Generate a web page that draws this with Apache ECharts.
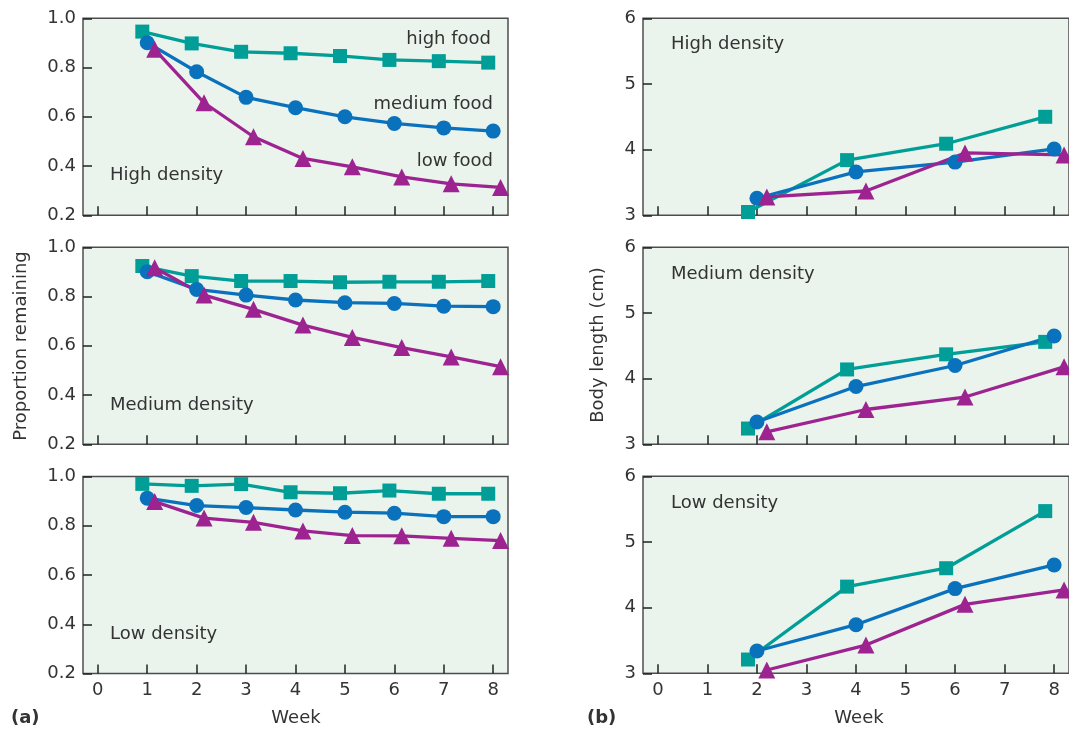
<!DOCTYPE html>
<html>
<head>
<meta charset="utf-8">
<script src="https://cdn.jsdelivr.net/npm/echarts@6/dist/echarts.min.js"></script>
<style>
html,body{margin:0;padding:0;background:#fff;}
#chart{width:1069px;height:731px;}
</style>
</head>
<body>
<div id="chart"></div>
<script>
// ---------------- DATA ----------------
const weeksA = [1, 2, 3, 4, 5, 6, 7, 8];
const weeksB = [2, 4, 6, 8];
const xTickValues = [0, 1, 2, 3, 4, 5, 6, 7, 8];
const densityLabels = ['High density', 'Medium density', 'Low density'];
const foodLabels = ['high food', 'medium food', 'low food'];

// (a) Proportion remaining
const propHighDens_highFood = [0.946, 0.898, 0.864, 0.858, 0.847, 0.831, 0.826, 0.820];
const propHighDens_medFood  = [0.901, 0.783, 0.679, 0.637, 0.600, 0.573, 0.555, 0.542];
const propHighDens_lowFood  = [0.874, 0.657, 0.519, 0.431, 0.397, 0.356, 0.328, 0.313];

const propMedDens_highFood = [0.924, 0.883, 0.863, 0.863, 0.858, 0.860, 0.860, 0.863];
const propMedDens_medFood  = [0.901, 0.829, 0.806, 0.786, 0.775, 0.772, 0.761, 0.759];
const propMedDens_lowFood  = [0.917, 0.806, 0.748, 0.684, 0.634, 0.593, 0.555, 0.515];

const propLowDens_highFood = [0.970, 0.962, 0.969, 0.936, 0.932, 0.943, 0.930, 0.930];
const propLowDens_medFood  = [0.912, 0.882, 0.874, 0.864, 0.855, 0.851, 0.837, 0.837];
const propLowDens_lowFood  = [0.898, 0.831, 0.814, 0.779, 0.760, 0.759, 0.749, 0.740];

// (b) Body length (cm)
const lenHighDens_highFood = [3.05, 3.84, 4.09, 4.50];
const lenHighDens_medFood  = [3.26, 3.66, 3.81, 4.01];
const lenHighDens_lowFood  = [3.28, 3.37, 3.95, 3.92];

const lenMedDens_highFood = [3.24, 4.14, 4.37, 4.56];
const lenMedDens_medFood  = [3.34, 3.88, 4.20, 4.65];
const lenMedDens_lowFood  = [3.19, 3.53, 3.72, 4.18];

const lenLowDens_highFood = [3.21, 4.32, 4.60, 5.47];
const lenLowDens_medFood  = [3.34, 3.74, 4.29, 4.65];
const lenLowDens_lowFood  = [3.05, 3.43, 4.05, 4.27];

// ---------------- STYLE ----------------
const FONT = 'DejaVu Sans';
const TXT = '#333333';
const FRAME = '#4d4d4d';
const BG = '#EAF4EC';
const colors = ['#009E97', '#0A71BD', '#9D2391'];
const symbols = ['rect', 'circle', 'triangle'];
const symSizes = [14, 15, 17];
const jitterA = [-0.1, 0, 0.15];   // horizontal marker offsets used in the figure
const jitterB = [-0.18, 0, 0.2];

const leftTops = [18.3, 247.3, 476.5];
const rightTops = [18.3, 247.3, 476.3];

const panels = [
  {left: 83, width: 425, top: leftTops[0], weeks: weeksA, jit: jitterA, y: [0.2, 1.0, 0.2], lbl: false,
   data: [propHighDens_highFood, propHighDens_medFood, propHighDens_lowFood]},
  {left: 83, width: 425, top: leftTops[1], weeks: weeksA, jit: jitterA, y: [0.2, 1.0, 0.2], lbl: false,
   data: [propMedDens_highFood, propMedDens_medFood, propMedDens_lowFood]},
  {left: 83, width: 425, top: leftTops[2], weeks: weeksA, jit: jitterA, y: [0.2, 1.0, 0.2], lbl: true,
   data: [propLowDens_highFood, propLowDens_medFood, propLowDens_lowFood]},
  {left: 643, width: 433, top: rightTops[0], weeks: weeksB, jit: jitterB, y: [3, 6, 1], lbl: false,
   data: [lenHighDens_highFood, lenHighDens_medFood, lenHighDens_lowFood]},
  {left: 643, width: 433, top: rightTops[1], weeks: weeksB, jit: jitterB, y: [3, 6, 1], lbl: false,
   data: [lenMedDens_highFood, lenMedDens_medFood, lenMedDens_lowFood]},
  {left: 643, width: 433, top: rightTops[2], weeks: weeksB, jit: jitterB, y: [3, 6, 1], lbl: true,
   data: [lenLowDens_highFood, lenLowDens_medFood, lenLowDens_lowFood]}
];

const grid = [], xAxis = [], yAxis = [], series = [];
panels.forEach((p, i) => {
  grid.push({left: p.left, top: p.top, width: p.width, height: 197, show: true,
    backgroundColor: BG, borderColor: FRAME, borderWidth: 1.5});
  xAxis.push({gridIndex: i, type: 'value', min: -0.3, max: 8.3, position: 'bottom',
    axisLine: {show: false, onZero: false}, splitLine: {show: false},
    axisTick: {show: true, inside: true, length: 9, customValues: xTickValues,
      lineStyle: {color: '#222', width: 1.5}},
    axisLabel: {show: p.lbl, customValues: xTickValues, margin: 8, fontSize: 18,
      fontFamily: FONT, color: TXT}});
  const isProp = p.y[2] < 1;
  yAxis.push({gridIndex: i, type: 'value', min: p.y[0], max: p.y[1], interval: p.y[2], position: 'left',
    axisLine: {show: false, onZero: false}, splitLine: {show: false},
    axisTick: {show: true, inside: true, length: 9, lineStyle: {color: '#222', width: 1.5}},
    axisLabel: {margin: 7, fontSize: 18, fontFamily: FONT, color: TXT,
      formatter: v => isProp ? v.toFixed(1) : String(v)}});
  p.data.forEach((vals, s) => {
    series.push({type: 'line', xAxisIndex: i, yAxisIndex: i, clip: false,
      data: vals.map((v, k) => [p.weeks[k] + p.jit[s], v]),
      symbol: symbols[s], symbolSize: symSizes[s], showSymbol: true,
      lineStyle: {color: colors[s], width: 3.3},
      itemStyle: {color: colors[s]}, animation: false});
  });
});

const txt = (x, y, text, extra) => Object.assign({type: 'text', x: x, y: y,
  style: Object.assign({text: text, fontSize: 18, fontFamily: FONT, fill: TXT,
    verticalAlign: 'middle'}, extra || {})});

const graphic = [
  txt(110, 175, densityLabels[0]), txt(110, 405, densityLabels[1]), txt(110, 634, densityLabels[2]),
  txt(671, 44, densityLabels[0]), txt(671, 274, densityLabels[1]), txt(671, 503, densityLabels[2]),
  txt(491, 39, foodLabels[0], {align: 'right'}),
  txt(493, 104, foodLabels[1], {align: 'right'}),
  txt(493, 161, foodLabels[2], {align: 'right'}),
  txt(11, 718, '(a)', {fontWeight: 'bold'}),
  txt(587, 718, '(b)', {fontWeight: 'bold'}),
  txt(296, 718, 'Week', {align: 'center'}),
  txt(859, 718, 'Week', {align: 'center'}),
  {type: 'text', x: 21, y: 346, rotation: Math.PI / 2,
   style: {text: 'Proportion remaining', fontSize: 18, fontFamily: FONT, fill: TXT,
     align: 'center', verticalAlign: 'middle'}},
  {type: 'text', x: 598, y: 345, rotation: Math.PI / 2,
   style: {text: 'Body length (cm)', fontSize: 18, fontFamily: FONT, fill: TXT,
     align: 'center', verticalAlign: 'middle'}}
];

const chart = echarts.init(document.getElementById('chart'), null, {renderer: 'canvas'});
chart.setOption({animation: false, backgroundColor: '#ffffff', grid, xAxis, yAxis, series, graphic});
</script>
</body>
</html>
